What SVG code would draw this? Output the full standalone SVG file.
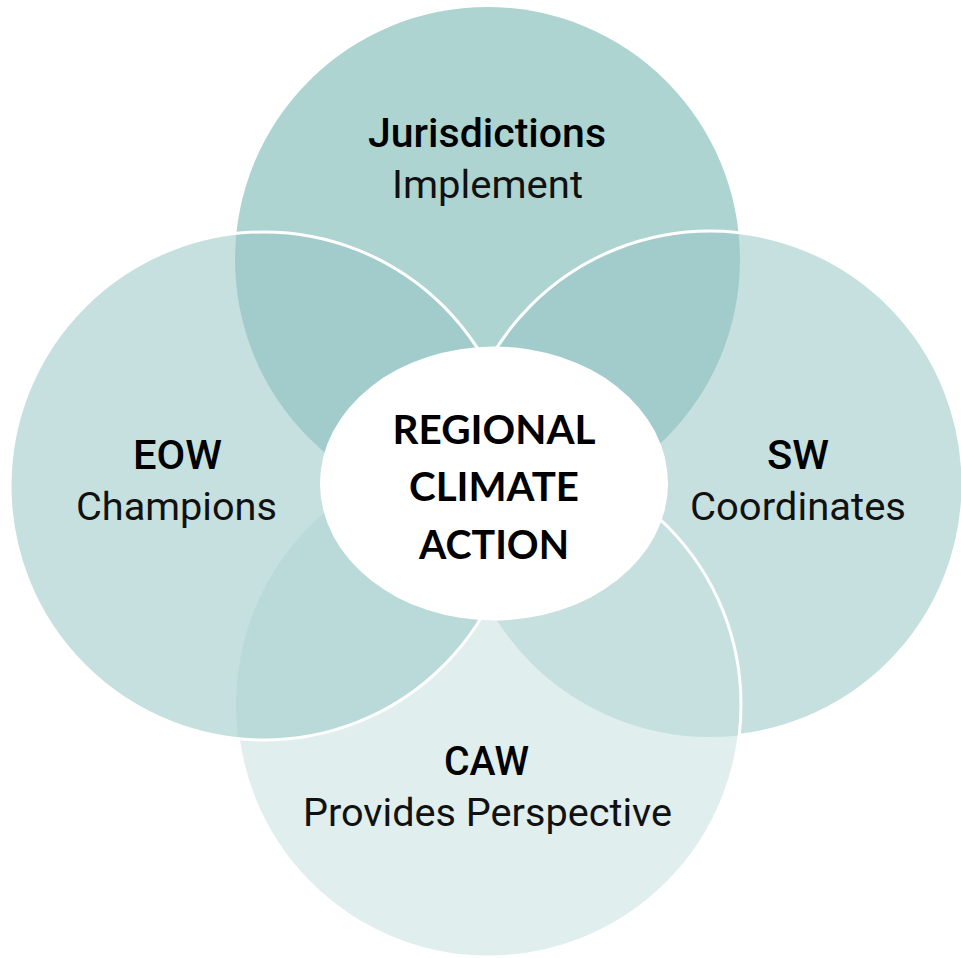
<svg xmlns="http://www.w3.org/2000/svg" width="961" height="958" viewBox="0 0 961 958">
  <style>
    .ring { stroke: #ffffff; stroke-width: 3; fill: none; }
    .head { font-family: Roboto, "Liberation Sans", sans-serif; font-weight: 500; font-size: 40px; fill: #000000; text-anchor: middle; }
    .sub { font-family: Roboto, "Liberation Sans", sans-serif; font-weight: 400; font-size: 38px; fill: #111111; text-anchor: middle; }
    .core { font-family: Lato, "Liberation Sans", sans-serif; font-weight: 700; font-size: 40px; fill: #000000; text-anchor: middle; }
  </style>
  <defs>
    <clipPath id="clipTop"><circle cx="487.5" cy="259.5" r="252.5"/></clipPath>
    <clipPath id="clipRight"><circle cx="710" cy="484" r="253"/></clipPath>
    <clipPath id="clipBottom"><circle cx="488.5" cy="704.5" r="252.5"/></clipPath>
  </defs>
  <rect x="0" y="0" width="961" height="958" fill="#ffffff"/>

  <g id="node-jurisdictions">
    <circle cx="487.5" cy="259.5" r="252.5" fill="#aed4d1"/>
  </g>

  <g id="node-sw">
    <circle cx="710" cy="484" r="253" fill="#c6e0df"/>
    <circle cx="710" cy="484" r="253" fill="#a1cccb" clip-path="url(#clipTop)"/>
    <circle class="ring" cx="710" cy="484" r="253"/>
  </g>

  <g id="node-caw">
    <circle cx="488.5" cy="704.5" r="252.5" fill="#e0eeed"/>
    <circle cx="488.5" cy="704.5" r="252.5" fill="#c5e0de" clip-path="url(#clipRight)"/>
    <circle class="ring" cx="488.5" cy="704.5" r="252.5"/>
  </g>

  <g id="node-eow">
    <circle cx="264" cy="486" r="254" fill="#c6e0df"/>
    <circle cx="264" cy="486" r="254" fill="#a1cccb" clip-path="url(#clipTop)"/>
    <circle cx="264" cy="486" r="254" fill="#b9dad8" clip-path="url(#clipBottom)"/>
    <circle class="ring" cx="264" cy="486" r="254"/>
  </g>

  <g id="node-center">
    <ellipse cx="494" cy="483.5" rx="174" ry="137" fill="#ffffff"/>
    <text class="core" x="494" y="444" textLength="203" lengthAdjust="spacingAndGlyphs">REGIONAL</text>
    <text class="core" x="494" y="501" textLength="170" lengthAdjust="spacingAndGlyphs">CLIMATE</text>
    <text class="core" x="494" y="559" textLength="150" lengthAdjust="spacingAndGlyphs">ACTION</text>
  </g>

  <g id="labels">
    <text class="head" x="487" y="147" textLength="238" lengthAdjust="spacingAndGlyphs">Jurisdictions</text>
    <text class="sub" x="487.5" y="198" textLength="191" lengthAdjust="spacingAndGlyphs">Implement</text>
    <text class="head" x="177.5" y="469" textLength="89" lengthAdjust="spacingAndGlyphs">EOW</text>
    <text class="sub" x="176.5" y="520" textLength="201" lengthAdjust="spacingAndGlyphs">Champions</text>
    <text class="head" x="798" y="469" textLength="62" lengthAdjust="spacingAndGlyphs">SW</text>
    <text class="sub" x="798" y="520" textLength="216" lengthAdjust="spacingAndGlyphs">Coordinates</text>
    <text class="head" x="486.5" y="775" textLength="85" lengthAdjust="spacingAndGlyphs">CAW</text>
    <text class="sub" x="487.5" y="826" textLength="369" lengthAdjust="spacingAndGlyphs">Provides Perspective</text>
  </g>

  <g id="connectors"></g>
</svg>
